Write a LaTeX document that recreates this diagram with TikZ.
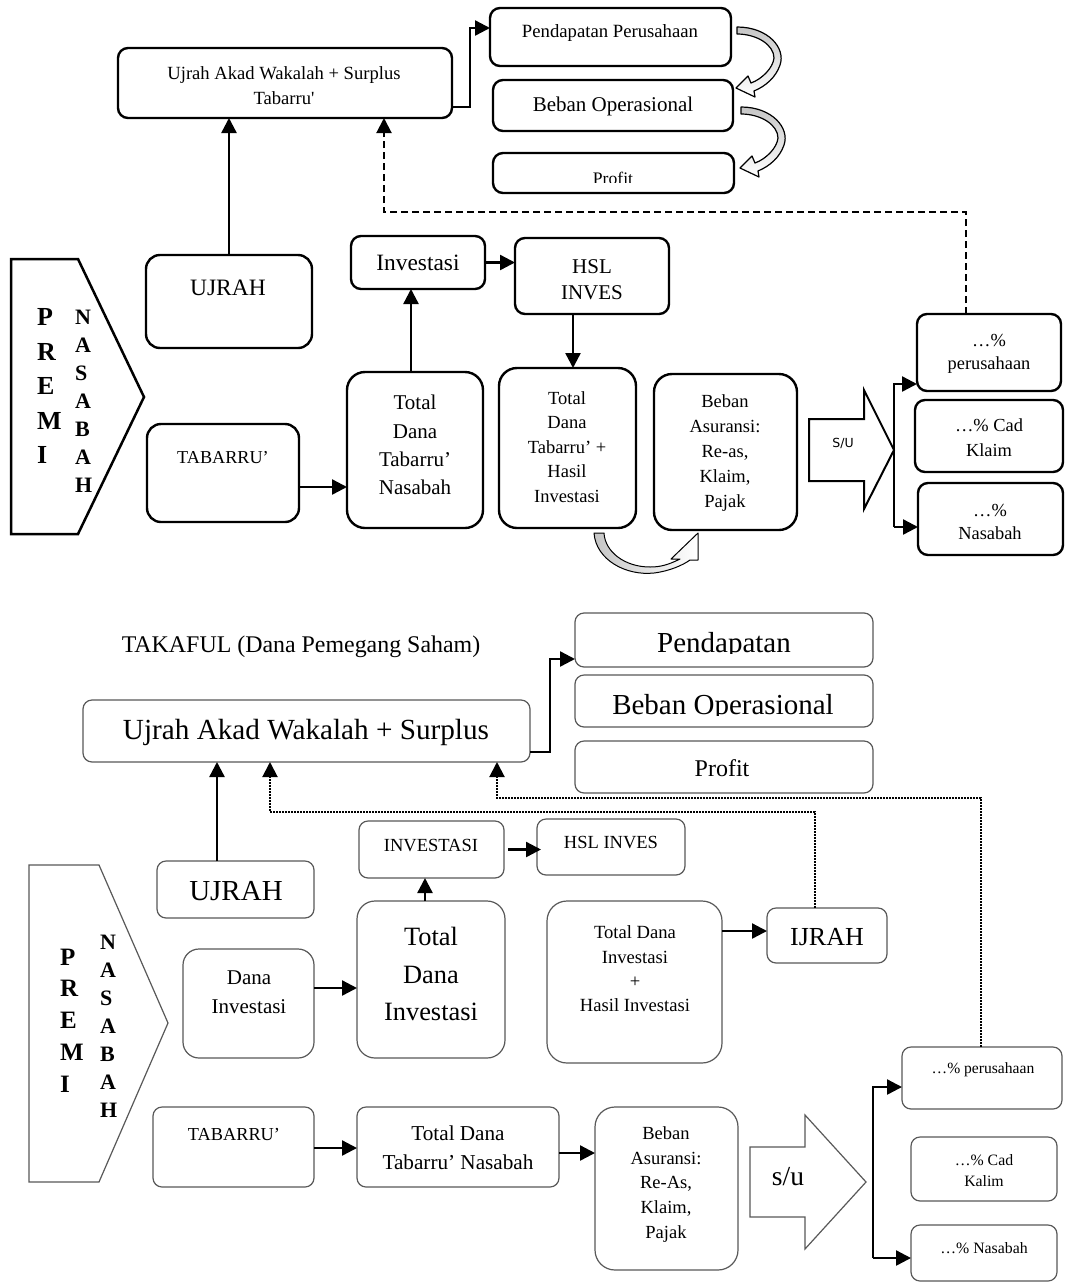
\documentclass[tikz,border=0pt]{standalone}
\usepackage{fontspec}
\setmainfont{Liberation Serif}
\newfontfamily\sufont{DejaVu Sans}
\usetikzlibrary{arrows.meta}
\begin{document}
\begin{tikzpicture}[x=1pt,y=-1pt,
  tb/.style={draw=black, line width=2.4pt, rounded corners=10pt, inner sep=0pt, outer sep=0pt},
  bb/.style={draw=black!65, line width=1.2pt, rounded corners=9pt, inner sep=0pt, outer sep=0pt},
  sz/.style 2 args={minimum width=#1pt, minimum height=#2pt},
  fs/.style 2 args={font=\fontsize{#1}{#2}\selectfont},
  fsb/.style 2 args={font=\fontsize{#1}{#2}\selectfont\bfseries},
  lb/.style={inner sep=0pt, align=center},
  col/.style={inner sep=0pt, align=left, anchor=west},
  arr/.style={line width=2.4pt, -{Triangle[length=15pt,width=15pt]}},
  dsh/.style={arr, line width=2pt, dash pattern=on 7pt off 4pt},
  dotln/.style={arr, line width=2pt, dash pattern=on 1.6pt off 1.4pt},
  bln/.style={draw=black!65, line width=1.2pt, line join=miter},
  cvarrow/.style={draw=black, line width=1.2pt, line join=round, top color=gray!45, bottom color=white},
  cvarrowb/.style={draw=black, line width=1pt, line join=round, left color=gray!45, right color=white},
]
\useasboundingbox (0,0) rectangle (1070,1283);
\fill[white] (0,0) rectangle (1070,1283);

%================ TOP DIAGRAM ================
\node[tb, sz={334}{70}] (ujr1) at (285,83) {};
\node[lb, fs={18.6}{25}] (tujr1) at (284,86) {Ujrah Akad Wakalah + Surplus\\Tabarru\textquotesingle};

\node[tb, sz={241}{58}] (pend1) at (610.5,37) {};
\node[lb, fs={18.7}{22}] (tpend1) at (610,33) {Pendapatan Perusahaan};
\node[tb, sz={240}{51}] (bop1) at (613,105.5) {};
\node[lb, fs={21}{24}] (tbop1) at (613,106) {Beban Operasional};
\node[tb, sz={241}{40}] (prof1) at (613.5,173) {};
\begin{scope}
  \clip (495,155) rectangle (732,182);
  \node[lb, fs={17.6}{20}, anchor=base] (tprof1) at (613,184) {Profit};
\end{scope}

% curved arrows between boxes
\path[cvarrow] (737,27) .. controls (768,27) and (786,48) .. (780,65)
  .. controls (776,77) and (766,86) .. (754,91) -- (755,97) -- (736,88) -- (748,76) -- (751,83)
  .. controls (762,79) and (773,68) .. (774,58) .. controls (774,45) and (757,34) .. (737,34) -- cycle;
\begin{scope}[shift={(4,80)}]
\path[cvarrow] (737,27) .. controls (768,27) and (786,48) .. (780,65)
  .. controls (776,77) and (766,86) .. (754,91) -- (755,97) -- (736,88) -- (748,76) -- (751,83)
  .. controls (762,79) and (773,68) .. (774,58) .. controls (774,45) and (757,34) .. (737,34) -- cycle;
\end{scope}

\node[tb, rounded corners=14pt, sz={166}{93}] (ujrah1) at (229,301.5) {};
\node[lb, fs={23.5}{26}] (tujrah1) at (228,288) {UJRAH};

\draw[line width=2.5pt, line join=miter] (11,259) -- (78,259) -- (144,397) -- (78,534) -- (11,534) -- cycle;
\node[col, fsb={26}{34.5}] (premi1) at (37,386) {P\\R\\E\\M\\I};
\node[col, fsb={22}{28}] (nasb1) at (75,401) {N\\A\\S\\A\\B\\A\\H};

\node[tb, sz={134}{53}] (inv1) at (418,262.5) {};
\node[lb, fs={23.4}{26}] (tinv1) at (418,263) {Investasi};
\node[tb, sz={154}{76}] (hsl1) at (592,276) {};
\node[lb, fs={21}{26}] (thsl1) at (592,280) {HSL\\INVES};

\node[tb, rounded corners=18pt, sz={136}{156}] (tdt1) at (415,450) {};
\node[lb, fs={21}{28.3}] (ttdt1) at (415,445) {Total\\Dana\\Tabarru’\\Nasabah};
\node[tb, rounded corners=14pt, sz={152}{98}] (tab1) at (223,473) {};
\node[lb, fs={18.2}{22}] (ttab1) at (223,458) {TABARRU’};
\node[tb, rounded corners=18pt, sz={137}{160}] (tdh1) at (567.5,448) {};
\node[lb, fs={18.5}{24.5}] (ttdh1) at (567,447) {Total\\Dana\\Tabarru’ +\\Hasil\\Investasi};
\node[tb, rounded corners=18pt, sz={143}{156}] (beb1) at (725.5,452) {};
\node[lb, fs={18.5}{25}] (tbeb1) at (725,453) {Beban\\Asuransi:\\Re-as,\\Klaim,\\Pajak};

\draw[line width=2pt, line join=miter] (809,419) -- (864,419) -- (864,390) -- (894,450) -- (864,509) -- (864,481) -- (809,481) -- cycle;
\node[lb, font=\sufont\fontsize{12.5}{14}\selectfont] (tsu1) at (843,443) {S/U};

\node[tb, sz={144}{77}] (per1) at (989,352.5) {};
\node[lb, fs={18.4}{23}] (tper1) at (989,353.5) {…\%\\perusahaan};
\node[tb, sz={148}{72}] (cad1) at (989,436) {};
\node[lb, fs={18.4}{25}] (tcad1) at (989,437.5) {…\% Cad\\Klaim};
\node[tb, sz={145}{72}] (nas1) at (990.5,519) {};
\node[lb, fs={18.4}{23}] (tnas1) at (990,521.5) {…\%\\Nasabah};

% bottom curved arrow
\path[cvarrowb] (594,533) .. controls (596,560) and (626,576) .. (654,573)
  .. controls (670,571) and (683,565) .. (690,560) -- (698,560) -- (698,533) -- (671,559) -- (680,559)
  .. controls (668,565) and (660,567) .. (650,567) .. controls (625,567) and (605,552) .. (604,533) -- cycle;

% connectors top
\draw[arr] (ujrah1.north) -- (ujrah1.north |- ujr1.south);
\draw[arr] ([yshift=-24pt]ujr1.east) -- ++(18,0) |- ([yshift=9pt]pend1.west);
\coordinate (d1) at (384,212);
\draw[dsh] ([xshift=-23pt]per1.north) |- (d1) -- (d1 |- ujr1.south);
\draw[arr] ([yshift=-14pt]tab1.east) -- ([yshift=-14pt]tab1.east -| tdt1.west);
\draw[arr] ([xshift=-4pt]tdt1.north) -- ([xshift=-4pt]tdt1.north |- inv1.south);
\draw[arr] (inv1.east) -- (inv1.east -| hsl1.west);
\draw[arr] ([xshift=-19pt]hsl1.south) -- ([xshift=-19pt]hsl1.south |- tdh1.north);
\coordinate (b1t) at (894,384);
\coordinate (b1b) at (894,527);
\draw[arr] (b1b) -- (b1t) -- (b1t -| per1.west);
\draw[arr] (b1b) -- (b1b -| nas1.west);

%================ BOTTOM DIAGRAM ================
\node[lb, fs={23.9}{28}] (takaful) at (301,647) {TAKAFUL (Dana Pemegang Saham)};
\node[bb, sz={447}{62}] (ujr2) at (306.5,731) {};
\node[lb, fs={29.2}{33}] (tujr2) at (306,732) {Ujrah Akad Wakalah + Surplus};

\node[bb, sz={298}{54}] (pend2) at (724,640) {};
\begin{scope}
  \clip (577,615) rectangle (871,653);
  \node[lb, fs={29}{33}, anchor=base] (tpend2) at (724,652) {Pendapatan};
\end{scope}
\node[bb, sz={298}{52}] (bop2) at (724,701) {};
\begin{scope}
  \clip (577,677) rectangle (871,715);
  \node[lb, fs={29}{33}, anchor=base] (tbop2) at (723,714) {Beban Operasional};
\end{scope}
\node[bb, sz={298}{52}] (prof2) at (724,767) {};
\node[lb, fs={24}{28}] (tprof2) at (722,768) {Profit};
\draw[arr] ([yshift=-21pt]ujr2.east) -- ++(20,0) |- ([yshift=-19pt]pend2.west);

\node[bb, sz={157}{57}] (ujrah2) at (235.5,889.5) {};
\node[lb, fs={29}{33}] (tujrah2) at (236,891) {UJRAH};
\draw[arr] ([xshift=-18.5pt]ujrah2.north) -- ([xshift=-18.5pt]ujrah2.north |- ujr2.south);

\node[bb, sz={145}{57}] (inv2) at (431.5,849.5) {};
\node[lb, fs={18.5}{22}] (tinv2) at (431,846) {INVESTASI};
\node[bb, sz={148}{56}] (hsl2) at (611,847) {};
\node[lb, fs={18.5}{22}] (thsl2) at (611,843) {HSL INVES};
\draw[arr] ([xshift=4pt]inv2.east) -- ([xshift=4pt]inv2.east -| hsl2.west);

\node[bb, rounded corners=18pt, sz={148}{157}] (tdi2) at (431,979.5) {};
\node[lb, fs={26.4}{37.5}] (ttdi2) at (431,974) {Total\\Dana\\Investasi};
\draw[arr] ([xshift=-6pt]tdi2.north) -- ([xshift=-6pt]tdi2.north |- inv2.south);

\node[bb, rounded corners=16pt, sz={131}{109}] (dinv2) at (248.5,1003.5) {};
\node[lb, fs={21}{29}] (tdinv2) at (249,992) {Dana\\Investasi};
\draw[arr] ([yshift=15.5pt]dinv2.east) -- ([yshift=15.5pt]dinv2.east -| tdi2.west);

\node[bb, rounded corners=20pt, sz={175}{162}] (tdhi2) at (634.5,982) {};
\node[lb, fs={18.6}{24.3}] (ttdhi2) at (635,969) {Total Dana\\Investasi\\+\\Hasil Investasi};
\node[bb, sz={120}{55}] (ijr2) at (827,935.5) {};
\node[lb, fs={26}{30}] (tijr2) at (827,937) {IJRAH};
\draw[arr] ([yshift=51pt]tdhi2.east) -- ([yshift=51pt]tdhi2.east -| ijr2.west);

\draw[bln] (29,865) -- (99,865) -- (168,1023) -- (99,1182) -- (29,1182) -- cycle;
\node[col, fsb={25}{31.75}] (premi2) at (60,1020.5) {P\\R\\E\\M\\I};
\node[col, fsb={22}{28}] (nasb2) at (100,1026) {N\\A\\S\\A\\B\\A\\H};

\node[bb, sz={161}{80}] (tab2) at (233.5,1147) {};
\node[lb, fs={18.3}{22}] (ttab2) at (234,1134) {TABARRU’};
\node[bb, sz={202}{80}] (tdt2) at (458,1147) {};
\node[lb, fs={21.2}{29}] (ttdt2) at (458,1147.5) {Total Dana\\Tabarru’ Nasabah};
\draw[arr] ([yshift=-1pt]tab2.east) -- ([yshift=-1pt]tab2.east -| tdt2.west);

\node[bb, rounded corners=20pt, sz={143}{163}] (beb2) at (666.5,1188.5) {};
\node[lb, fs={18.5}{24.75}] (tbeb2) at (666,1184.5) {Beban\\Asuransi:\\Re-As,\\Klaim,\\Pajak};
\draw[arr] ([yshift=-6pt]tdt2.east) -- ([yshift=-6pt]tdt2.east -| beb2.west);

\draw[bln] (750,1147) -- (805,1147) -- (805,1115) -- (866,1182) -- (805,1249) -- (805,1217) -- (750,1217) -- cycle;
\node[lb, fs={27.5}{30}] (tsu2) at (788,1177) {s/u};

\node[bb, sz={160}{62}] (per2) at (982,1078) {};
\node[lb, fs={15.6}{20}] (tper2) at (983,1070) {…\% perusahaan};
\node[bb, sz={146}{64}] (cad2) at (984,1169) {};
\node[lb, fs={15.8}{21}] (tcad2) at (984,1170.5) {…\% Cad\\Kalim};
\node[bb, sz={146}{56}] (nas2) at (984,1253) {};
\node[lb, fs={15.8}{20}] (tnas2) at (984,1248) {…\% Nasabah};

\coordinate (b2t) at (873,1087);
\coordinate (b2b) at (873,1258);
\draw[arr] (b2b) -- (b2t) -- (b2t -| per2.west);
\draw[arr] (b2b) -- (b2b -| nas2.west);

\coordinate (e1) at (270,812);
\draw[dotln] ([xshift=-12pt]ijr2.north) |- (e1) -- (e1 |- ujr2.south);
\coordinate (e2) at (497,798);
\draw[dotln] ([xshift=-1pt]per2.north) |- (e2) -- (e2 |- ujr2.south);
\end{tikzpicture}
\end{document}
